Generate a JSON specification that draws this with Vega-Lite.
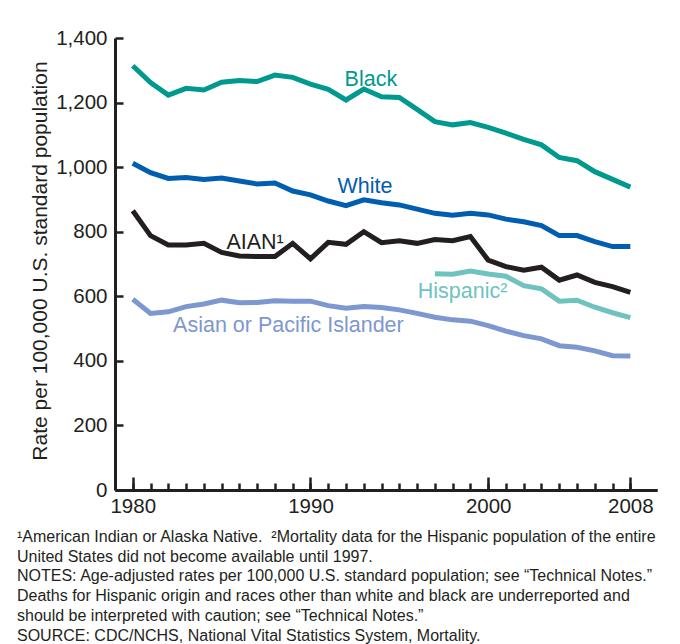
{
  "$schema": "https://vega.github.io/schema/vega-lite/v6.json",
  "autosize": "none",
  "width": 542,
  "height": 452,
  "padding": {"left": 115, "top": 38, "right": 23, "bottom": 154},
  "background": "white",
  "config": {
    "font": "Liberation Sans",
    "view": {"stroke": null},
    "axis": {"grid": false, "domainColor": "#231F20", "tickColor": "#231F20", "labelColor": "#231F20", "titleColor": "#231F20", "labelFont": "Liberation Sans", "titleFont": "Liberation Sans"}
  },
  "title": {
    "text": [
      "¹American Indian or Alaska Native.\u00a0 ²Mortality data for the Hispanic population of the entire",
      "United States did not become available until 1997.",
      "NOTES: Age-adjusted rates per 100,000 U.S. standard population; see “Technical Notes.”",
      "Deaths for Hispanic origin and races other than white and black are underreported and",
      "should be interpreted with caution; see “Technical Notes.”",
      "SOURCE: CDC/NCHS, National Vital Statistics System, Mortality."
    ],
    "orient": "bottom",
    "anchor": "start",
    "frame": "group",
    "dx": -98,
    "offset": 12,
    "fontSize": 16,
    "fontWeight": "normal",
    "lineHeight": 19.7,
    "color": "#231F20",
    "font": "Liberation Sans"
  },
  "datasets": {
    "rates": [
      {"group": "Black", "year": 1980, "rate": 1314}, {"group": "Black", "year": 1981, "rate": 1262}, {"group": "Black", "year": 1982, "rate": 1223}, {"group": "Black", "year": 1983, "rate": 1244}, {"group": "Black", "year": 1984, "rate": 1239}, {"group": "Black", "year": 1985, "rate": 1263}, {"group": "Black", "year": 1986, "rate": 1268}, {"group": "Black", "year": 1987, "rate": 1265}, {"group": "Black", "year": 1988, "rate": 1285}, {"group": "Black", "year": 1989, "rate": 1278}, {"group": "Black", "year": 1990, "rate": 1257}, {"group": "Black", "year": 1991, "rate": 1241}, {"group": "Black", "year": 1992, "rate": 1208}, {"group": "Black", "year": 1993, "rate": 1242}, {"group": "Black", "year": 1994, "rate": 1218}, {"group": "Black", "year": 1995, "rate": 1216}, {"group": "Black", "year": 1996, "rate": 1179}, {"group": "Black", "year": 1997, "rate": 1141}, {"group": "Black", "year": 1998, "rate": 1131}, {"group": "Black", "year": 1999, "rate": 1138}, {"group": "Black", "year": 2000, "rate": 1123}, {"group": "Black", "year": 2001, "rate": 1105}, {"group": "Black", "year": 2002, "rate": 1086}, {"group": "Black", "year": 2003, "rate": 1069}, {"group": "Black", "year": 2004, "rate": 1030}, {"group": "Black", "year": 2005, "rate": 1020}, {"group": "Black", "year": 2006, "rate": 986}, {"group": "Black", "year": 2007, "rate": 962}, {"group": "Black", "year": 2008, "rate": 938},
      {"group": "White", "year": 1980, "rate": 1012}, {"group": "White", "year": 1981, "rate": 983}, {"group": "White", "year": 1982, "rate": 965}, {"group": "White", "year": 1983, "rate": 968}, {"group": "White", "year": 1984, "rate": 962}, {"group": "White", "year": 1985, "rate": 966}, {"group": "White", "year": 1986, "rate": 957}, {"group": "White", "year": 1987, "rate": 948}, {"group": "White", "year": 1988, "rate": 951}, {"group": "White", "year": 1989, "rate": 926}, {"group": "White", "year": 1990, "rate": 914}, {"group": "White", "year": 1991, "rate": 895}, {"group": "White", "year": 1992, "rate": 881}, {"group": "White", "year": 1993, "rate": 899}, {"group": "White", "year": 1994, "rate": 890}, {"group": "White", "year": 1995, "rate": 883}, {"group": "White", "year": 1996, "rate": 870}, {"group": "White", "year": 1997, "rate": 857}, {"group": "White", "year": 1998, "rate": 851}, {"group": "White", "year": 1999, "rate": 857}, {"group": "White", "year": 2000, "rate": 852}, {"group": "White", "year": 2001, "rate": 839}, {"group": "White", "year": 2002, "rate": 831}, {"group": "White", "year": 2003, "rate": 819}, {"group": "White", "year": 2004, "rate": 788}, {"group": "White", "year": 2005, "rate": 788}, {"group": "White", "year": 2006, "rate": 769}, {"group": "White", "year": 2007, "rate": 754}, {"group": "White", "year": 2008, "rate": 754},
      {"group": "AIAN", "year": 1980, "rate": 865}, {"group": "AIAN", "year": 1981, "rate": 788}, {"group": "AIAN", "year": 1982, "rate": 759}, {"group": "AIAN", "year": 1983, "rate": 759}, {"group": "AIAN", "year": 1984, "rate": 764}, {"group": "AIAN", "year": 1985, "rate": 736}, {"group": "AIAN", "year": 1986, "rate": 725}, {"group": "AIAN", "year": 1987, "rate": 723}, {"group": "AIAN", "year": 1988, "rate": 723}, {"group": "AIAN", "year": 1989, "rate": 764}, {"group": "AIAN", "year": 1990, "rate": 716}, {"group": "AIAN", "year": 1991, "rate": 767}, {"group": "AIAN", "year": 1992, "rate": 761}, {"group": "AIAN", "year": 1993, "rate": 800}, {"group": "AIAN", "year": 1994, "rate": 766}, {"group": "AIAN", "year": 1995, "rate": 772}, {"group": "AIAN", "year": 1996, "rate": 764}, {"group": "AIAN", "year": 1997, "rate": 776}, {"group": "AIAN", "year": 1998, "rate": 772}, {"group": "AIAN", "year": 1999, "rate": 785}, {"group": "AIAN", "year": 2000, "rate": 712}, {"group": "AIAN", "year": 2001, "rate": 692}, {"group": "AIAN", "year": 2002, "rate": 681}, {"group": "AIAN", "year": 2003, "rate": 690}, {"group": "AIAN", "year": 2004, "rate": 650}, {"group": "AIAN", "year": 2005, "rate": 666}, {"group": "AIAN", "year": 2006, "rate": 643}, {"group": "AIAN", "year": 2007, "rate": 630}, {"group": "AIAN", "year": 2008, "rate": 612},
      {"group": "Hispanic", "year": 1997, "rate": 670}, {"group": "Hispanic", "year": 1998, "rate": 668}, {"group": "Hispanic", "year": 1999, "rate": 678}, {"group": "Hispanic", "year": 2000, "rate": 669}, {"group": "Hispanic", "year": 2001, "rate": 662}, {"group": "Hispanic", "year": 2002, "rate": 633}, {"group": "Hispanic", "year": 2003, "rate": 623}, {"group": "Hispanic", "year": 2004, "rate": 585}, {"group": "Hispanic", "year": 2005, "rate": 588}, {"group": "Hispanic", "year": 2006, "rate": 566}, {"group": "Hispanic", "year": 2007, "rate": 549}, {"group": "Hispanic", "year": 2008, "rate": 534},
      {"group": "API", "year": 1980, "rate": 591}, {"group": "API", "year": 1981, "rate": 547}, {"group": "API", "year": 1982, "rate": 552}, {"group": "API", "year": 1983, "rate": 568}, {"group": "API", "year": 1984, "rate": 576}, {"group": "API", "year": 1985, "rate": 588}, {"group": "API", "year": 1986, "rate": 580}, {"group": "API", "year": 1987, "rate": 581}, {"group": "API", "year": 1988, "rate": 586}, {"group": "API", "year": 1989, "rate": 585}, {"group": "API", "year": 1990, "rate": 585}, {"group": "API", "year": 1991, "rate": 571}, {"group": "API", "year": 1992, "rate": 563}, {"group": "API", "year": 1993, "rate": 568}, {"group": "API", "year": 1994, "rate": 565}, {"group": "API", "year": 1995, "rate": 558}, {"group": "API", "year": 1996, "rate": 547}, {"group": "API", "year": 1997, "rate": 535}, {"group": "API", "year": 1998, "rate": 527}, {"group": "API", "year": 1999, "rate": 523}, {"group": "API", "year": 2000, "rate": 509}, {"group": "API", "year": 2001, "rate": 492}, {"group": "API", "year": 2002, "rate": 478}, {"group": "API", "year": 2003, "rate": 468}, {"group": "API", "year": 2004, "rate": 447}, {"group": "API", "year": 2005, "rate": 442}, {"group": "API", "year": 2006, "rate": 431}, {"group": "API", "year": 2007, "rate": 416}, {"group": "API", "year": 2008, "rate": 415}
    ],
    "labels": [
      {"group": "Black", "label": "Black", "year": 1991.92, "rate": 1251},
      {"group": "White", "label": "White", "year": 1991.52, "rate": 920},
      {"group": "AIAN", "label": "AIAN¹", "year": 1985.27, "rate": 745.5},
      {"group": "Hispanic", "label": "Hispanic²", "year": 1996.04, "rate": 595.6},
      {"group": "API", "label": "Asian or Pacific Islander", "year": 1982.27, "rate": 490.3}
    ]
  },
  "layer": [
    {
      "data": {"name": "rates"},
      "mark": {"type": "line", "strokeWidth": 5},
      "encoding": {
        "x": {
          "field": "year", "type": "quantitative",
          "scale": {"domain": [1979, 2009.5], "nice": false, "zero": false},
          "axis": {"orient": "bottom", "title": null, "values": [1980,1981,1982,1983,1984,1985,1986,1987,1988,1989,1990,1991,1992,1993,1994,1995,1996,1997,1998,1999,2000,2001,2002,2003,2004,2005,2006,2007,2008], "labels": false, "tickSize": -7, "tickWidth": 2.5, "domainWidth": 3}
        },
        "y": {
          "field": "rate", "type": "quantitative",
          "scale": {"domain": [0, 1400], "nice": false},
          "axis": {"title": "Rate per 100,000 U.S. standard population", "values": [0,200,400,600,800,1000,1200,1400], "format": ",d", "tickSize": -8, "tickWidth": 2.5, "domainWidth": 3, "labelPadding": 16, "labelFontSize": 20.5, "titleFontSize": 21, "titleFontWeight": "normal", "titleX": -68.5, "titleY": 222.5, "titleBaseline": "alphabetic", "titleAngle": -90, "titleAlign": "center"}
        },
        "color": {
          "field": "group", "type": "nominal",
          "scale": {"domain": ["Black", "White", "AIAN", "Hispanic", "API"], "range": ["#00998E", "#005EB0", "#231F20", "#6EC3BF", "#7D97D0"]},
          "legend": null
        }
      }
    },
    {
      "data": {"name": "labels"},
      "mark": {"type": "text", "align": "left", "baseline": "alphabetic", "fontSize": 21.5, "font": "Liberation Sans"},
      "encoding": {
        "x": {
          "field": "year", "type": "quantitative",
          "axis": {"orient": "bottom", "title": null, "values": [1980, 1990, 2000, 2008], "format": "d", "tickSize": -13, "tickWidth": 2.5, "domainWidth": 3, "labelPadding": 19.5, "labelFontSize": 20.5, "labelFlush": false}
        },
        "y": {"field": "rate", "type": "quantitative"},
        "text": {"field": "label"},
        "color": {"field": "group", "type": "nominal"}
      }
    }
  ],
  "resolve": {"axis": {"x": "independent"}}
}
